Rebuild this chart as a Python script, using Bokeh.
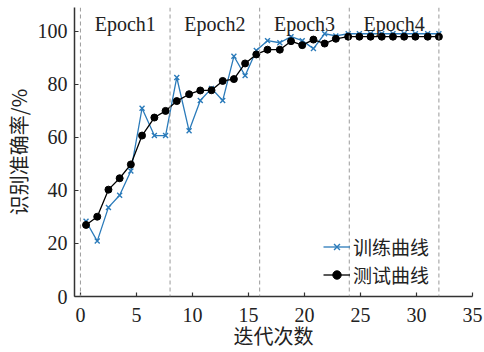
from bokeh.plotting import figure
from bokeh.models import ColumnDataSource, Legend, LegendItem, Range1d, FixedTicker, Span
from bokeh.core.properties import value
from bokeh.embed import file_html
from bokeh.resources import INLINE

# ---- data ----
iters = [0.5, 1.5, 2.5, 3.5, 4.5, 5.5, 6.6, 7.6, 8.6, 9.7, 10.7, 11.7, 12.7, 13.7, 14.7, 15.7,
         16.7, 17.8, 18.8, 19.8, 20.8, 21.8, 22.8, 23.9, 24.9, 25.9, 26.9, 27.9, 28.9, 29.9, 31.0, 32.0]
train_acc = [28.4, 20.9, 33.6, 38.2, 47.3, 71.0, 60.7, 60.7, 82.6, 62.5, 73.9, 78.5, 73.9, 90.6, 83.3, 92.8,
             96.5, 95.7, 98.0, 96.5, 93.5, 99.1, 98.3, 99.1, 99.1, 99.1, 99.1, 99.1, 99.1, 99.1, 99.1, 99.1]
test_acc = [27.0, 30.1, 40.3, 44.6, 49.8, 60.7, 67.5, 70.0, 73.7, 76.3, 77.7, 77.8, 81.3, 82.0, 87.9, 91.3,
            93.1, 93.1, 96.3, 94.8, 96.9, 95.4, 97.2, 98.0, 98.0, 98.0, 98.0, 98.0, 98.0, 98.0, 98.0, 98.0]
epoch_bounds = [0, 8, 16, 24, 32]
epoch_names = ["Epoch1", "Epoch2", "Epoch3", "Epoch4"]
epoch_centers = [4, 12, 20, 28]
epoch_label_y = [102.6, 102.6, 102.6, 102.6]
x_ticks = [0, 5, 10, 15, 20, 25, 30, 35]
y_ticks = [0, 20, 40, 60, 80, 100]
x_title = "迭代次数"
y_title = "识别准确率/%"
series_names = ["训练曲线", "测试曲线"]

SERIF = "'Liberation Serif'"
CJK = "'Noto Sans CJK SC'"
BLUE = "#2b7bba"

p = figure(width=484, height=352, output_backend="svg", toolbar_location=None,
           x_range=Range1d(-0.53, 35.0), y_range=Range1d(0, 109),
           min_border_left=73, min_border_right=12, min_border_top=7, min_border_bottom=54)
p.outline_line_color = None
p.grid.visible = False
p.background_fill_color = "white"

for xb in epoch_bounds:
    p.add_layout(Span(location=xb, dimension="height", line_color="#9a9a9a",
                      line_dash="4 3", line_width=1))

src = ColumnDataSource(dict(x=iters, train=train_acc, test=test_acc))
r_train_l = p.line("x", "train", source=src, line_color=BLUE, line_width=1.3)
r_train_m = p.scatter("x", "train", source=src, marker="x", size=7, line_color=BLUE, line_width=1.4)
r_test_l = p.line("x", "test", source=src, line_color="black", line_width=1.3)
r_test_m = p.scatter("x", "test", source=src, marker="circle", size=7, fill_color="black", line_color="black")

esrc = ColumnDataSource(dict(x=epoch_centers, y=epoch_label_y, t=epoch_names))
p.text("x", "y", text="t", source=esrc, text_font=value(SERIF), text_font_size="20px",
       text_align="center", text_baseline="alphabetic", text_color="#222222")

for ax in (p.xaxis[0], p.yaxis[0]):
    ax.axis_line_color = "#333333"
    ax.axis_line_width = 1.5
    ax.major_tick_line_color = "#333333"
    ax.major_tick_line_width = 1.2
    ax.major_tick_in = 4
    ax.major_tick_out = 0
    ax.minor_tick_line_color = None
    ax.major_label_text_font = SERIF
    ax.major_label_text_font_size = "20px"
    ax.major_label_text_color = "#222222"
    ax.axis_label_text_font = CJK
    ax.axis_label_text_font_size = "20px"
    ax.axis_label_text_font_style = "normal"
    ax.axis_label_text_color = "#222222"
    ax.axis_label_text_line_height = 0.6

p.xaxis.ticker = FixedTicker(ticks=x_ticks)
p.yaxis.ticker = FixedTicker(ticks=y_ticks)
p.xaxis.axis_label = x_title
p.yaxis.axis_label = y_title
p.xaxis.major_label_standoff = 11
p.yaxis.major_label_standoff = 7
p.xaxis.axis_label_standoff = -4
p.yaxis.axis_label_standoff = 2
p.xaxis.major_label_text_line_height = 0.9

def make_legend(name, renderers, loc):
    return Legend(items=[LegendItem(label=name, renderers=renderers)],
                  location=loc, orientation="vertical",
                  label_text_font=CJK, label_text_font_size="19px", label_text_color="#222222",
                  glyph_width=27, glyph_height=21, label_height=21, label_standoff=3,
                  spacing=0, padding=0, margin=0,
                  background_fill_alpha=0, border_line_color=None)

p.add_layout(make_legend(series_names[0], [r_train_l, r_train_m], (249, 36)))
p.add_layout(make_legend(series_names[1], [r_test_l, r_test_m], (249, 8)))

open("out.html", "w").write(file_html(p, INLINE))
